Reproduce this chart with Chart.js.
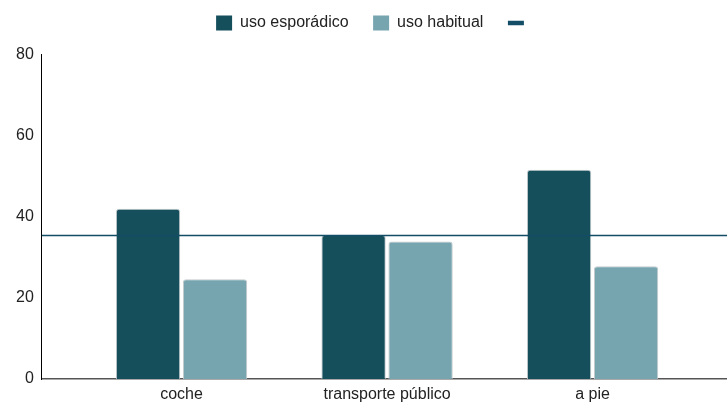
<!DOCTYPE html>
<html lang="es">
<head>
<meta charset="utf-8">
<title>Uso de modos de transporte</title>
<script src="https://cdn.jsdelivr.net/npm/chart.js@4/dist/chart.umd.min.js"></script>
<style>
  html, body { margin: 0; padding: 0; background: #ffffff; }
  #wrap { width: 727px; height: 402px; }
</style>
</head>
<body>
<div id="wrap"><canvas id="grafico" width="727" height="402"></canvas></div>
<script>
// Datos
const categorias = ['coche', 'transporte público', 'a pie'];
const usoEsporadico = [42.0, 35.5, 51.6];
const usoHabitual = [24.6, 33.9, 27.8];
const lineaReferencia = 35.4;
const ticksY = [0, 20, 40, 60, 80];
const etiquetas = ['uso esporádico', 'uso habitual', ''];

const colorOscuro = '#164f5c';
const colorClaro = '#76a5af';
const colorLinea = '#134e66';
const fuente = "'Liberation Sans', Arial, Helvetica, sans-serif";

Chart.defaults.font.family = fuente;
Chart.defaults.font.size = 16;
Chart.defaults.color = '#222222';

const aPuntos = (valores) => valores.map((v, i) => ({ x: i, y: v }));

// Ajustes de la leyenda: hueco inferior y desplazamiento horizontal
const ajusteLeyenda = {
  id: 'ajusteLeyenda',
  beforeUpdate(chart) {
    const leyenda = chart.legend;
    if (leyenda && !leyenda._ajustada) {
      const fitOriginal = leyenda.fit;
      leyenda.fit = function () {
        fitOriginal.call(this);
        this.height += 13.5;
      };
      leyenda._ajustada = true;
    }
  },
  afterLayout(chart) {
    const leyenda = chart.legend;
    if (leyenda) {
      leyenda.left += 6.5;
      leyenda.right += 6.5;
    }
  }
};

// Las barras de cada grupo ocupan unos dos tercios del espacio de la categoría
const estiloBarra = {
  borderColor: '#c3cacc',
  borderWidth: 1,
  borderRadius: 3,
  borderSkipped: 'bottom',
  barPercentage: 0.96,
  categoryPercentage: 1.304,
  order: 1
};

new Chart(document.getElementById('grafico'), {
  type: 'bar',
  plugins: [ajusteLeyenda],
  data: {
    datasets: [
      {
        type: 'line',
        label: etiquetas[2],
        data: [lineaReferencia, lineaReferencia],
        xAxisID: 'x2',
        borderColor: colorLinea,
        backgroundColor: colorLinea,
        borderWidth: 1.5,
        pointRadius: 0,
        fill: false,
        order: 0
      },
      Object.assign({
        label: etiquetas[0],
        data: aPuntos(usoEsporadico),
        backgroundColor: colorOscuro
      }, estiloBarra),
      Object.assign({
        label: etiquetas[1],
        data: aPuntos(usoHabitual),
        backgroundColor: colorClaro
      }, estiloBarra)
    ]
  },
  options: {
    responsive: false,
    animation: false,
    devicePixelRatio: 1,
    layout: { padding: { top: -9.5, left: 8, right: 0, bottom: -7.6 } },
    plugins: {
      tooltip: { enabled: false },
      legend: {
        position: 'top',
        labels: {
          usePointStyle: true,
          pointStyleWidth: 16,
          boxWidth: 16,
          boxHeight: 15,
          padding: 24.5,
          color: '#222222',
          font: { size: 16, family: fuente },
          generateLabels(chart) {
            const base = Chart.defaults.plugins.legend.labels.generateLabels(chart);
            base.sort((a, b) => a.datasetIndex - b.datasetIndex);
            return [base[1], base[2], base[0]].map((item) => {
              const ds = chart.data.datasets[item.datasetIndex];
              if (ds.type === 'line') {
                item.pointStyle = 'line';
                item.lineWidth = 4.5;
                item.strokeStyle = colorLinea;
              } else {
                item.pointStyle = 'rect';
                item.lineWidth = 0;
              }
              return item;
            });
          }
        }
      }
    },
    scales: {
      x: {
        type: 'linear',
        min: -0.68,
        max: 2.654,
        offset: false,
        grid: { display: false, offset: false, drawTicks: false },
        border: { display: true, color: '#555555', width: 1.5 },
        ticks: {
          stepSize: 1,
          includeBounds: false,
          padding: 5.7,
          autoSkip: false,
          maxRotation: 0,
          font: { size: 16, family: fuente },
          callback: (v) => (Number.isInteger(v) ? categorias[v] ?? '' : '')
        }
      },
      x2: {
        type: 'category',
        labels: ['inicio', 'fin'],
        offset: false,
        display: false
      },
      y: {
        min: 0,
        max: 80,
        grid: { display: false, drawTicks: false },
        border: { display: true, color: '#000000', width: 1 },
        afterBuildTicks(scale) {
          scale.ticks = ticksY.map((v) => ({ value: v }));
        },
        ticks: {
          padding: 8,
          font: { size: 16, family: fuente }
        }
      }
    }
  }
});
</script>
</body>
</html>
